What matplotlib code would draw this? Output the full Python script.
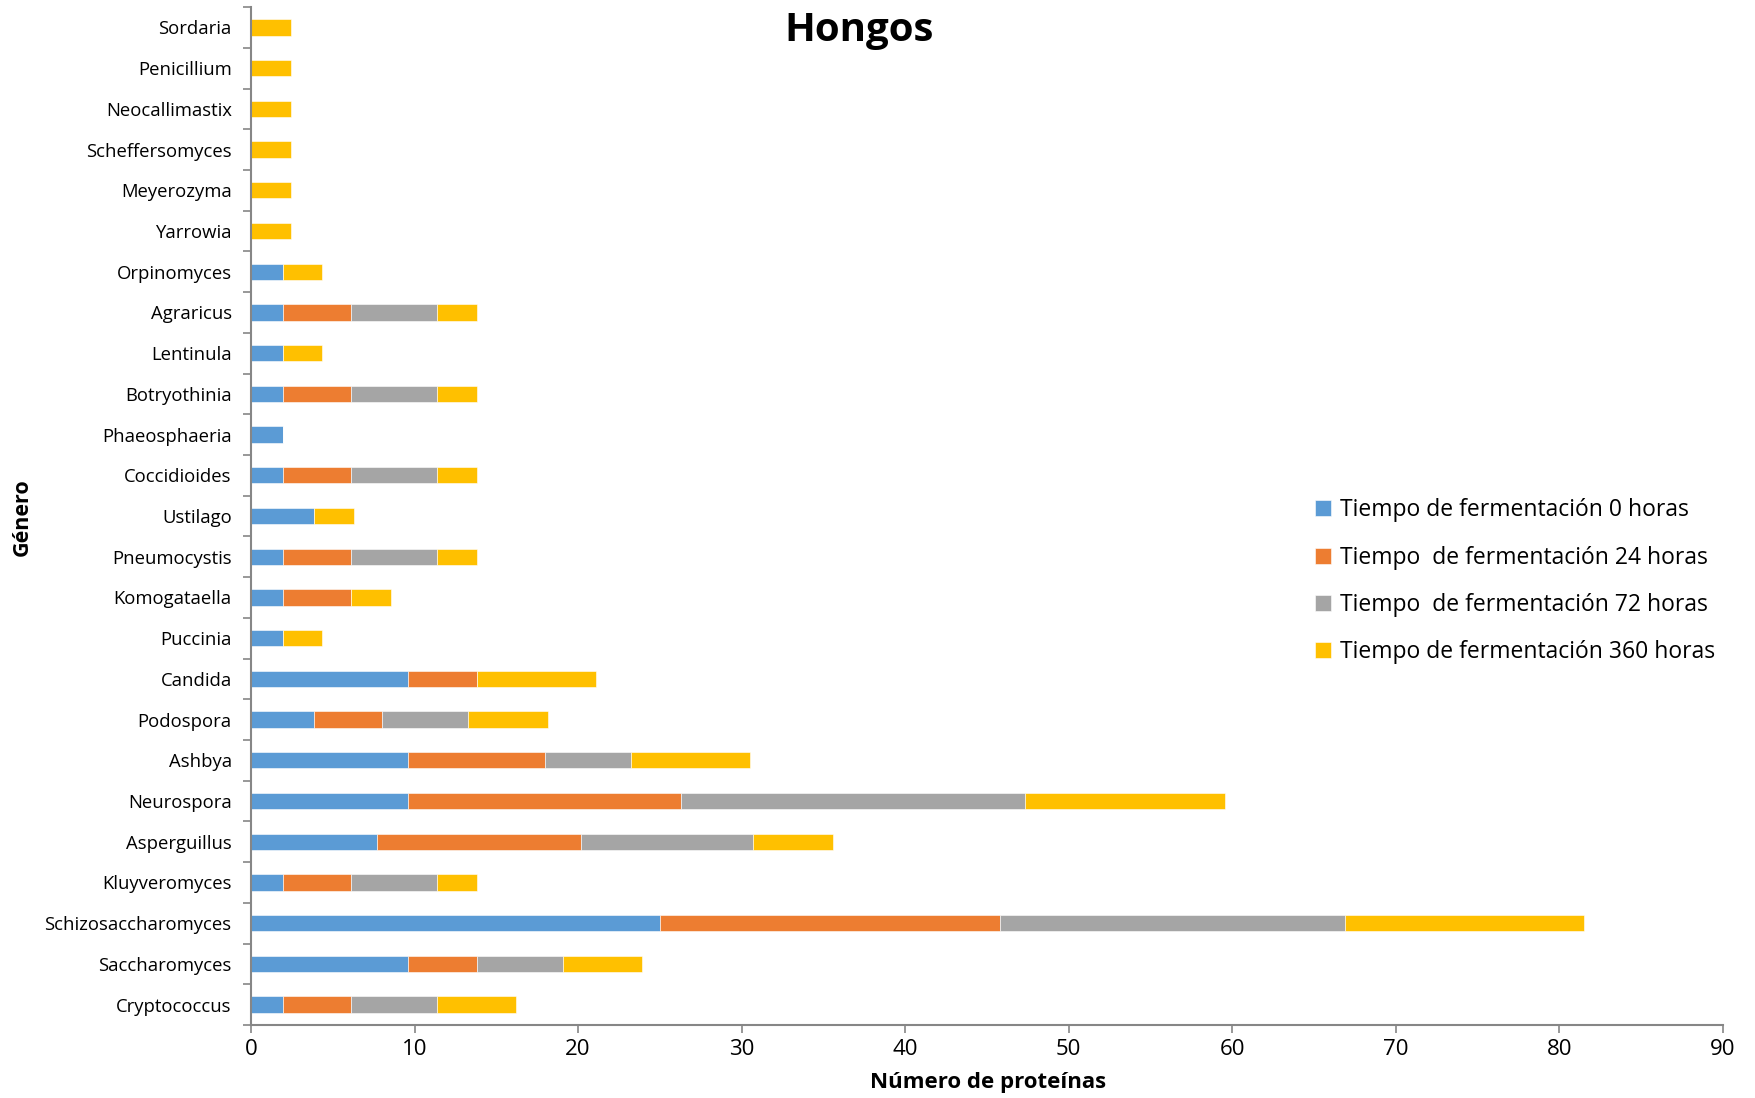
import numpy as np
import matplotlib.pyplot as plt
from matplotlib.ticker import FixedLocator

plt.rcParams['font.family'] = ['Open Sans', 'DejaVu Sans']

generos = ['Sordaria', 'Penicillium', 'Neocallimastix', 'Scheffersomyces', 'Meyerozyma',
           'Yarrowia', 'Orpinomyces', 'Agraricus', 'Lentinula', 'Botryothinia',
           'Phaeosphaeria', 'Coccidioides', 'Ustilago', 'Pneumocystis', 'Komogataella',
           'Puccinia', 'Candida', 'Podospora', 'Ashbya', 'Neurospora', 'Asperguillus',
           'Kluyveromyces', 'Schizosaccharomyces', 'Saccharomyces', 'Cryptococcus']

t0 = [0, 0, 0, 0, 0, 0, 1.92, 1.92, 1.92, 1.92, 1.92, 1.92, 3.85, 1.92, 1.92,
      1.92, 9.62, 3.85, 9.62, 9.62, 7.69, 1.92, 25.0, 9.62, 1.92]
t24 = [0, 0, 0, 0, 0, 0, 0, 4.17, 0, 4.17, 0, 4.17, 0, 4.17, 4.17,
       0, 4.17, 4.17, 8.33, 16.67, 12.5, 4.17, 20.83, 4.17, 4.17]
t72 = [0, 0, 0, 0, 0, 0, 0, 5.26, 0, 5.26, 0, 5.26, 0, 5.26, 0,
       0, 0, 5.26, 5.26, 21.05, 10.53, 5.26, 21.05, 5.26, 5.26]
t360 = [2.44, 2.44, 2.44, 2.44, 2.44, 2.44, 2.44, 2.44, 2.44, 2.44, 0, 2.44, 2.44, 2.44, 2.44,
        2.44, 7.32, 4.88, 7.32, 12.20, 4.88, 2.44, 14.63, 4.88, 4.88]

series = [
    (t0, 'Tiempo de fermentación 0 horas', '#5B9BD5'),
    (t24, 'Tiempo  de fermentación 24 horas', '#ED7D31'),
    (t72, 'Tiempo  de fermentación 72 horas', '#A5A5A5'),
    (t360, 'Tiempo de fermentación 360 horas', '#FFC000'),
]

fig = plt.figure(figsize=(17.56, 10.98), dpi=100)
ax = fig.add_axes([0.143, 0.0665, 0.838, 0.927])

y = np.arange(len(generos))
left = np.zeros(len(generos))
for vals, label, color in series:
    vals = np.array(vals)
    ax.barh(y, vals, left=left, height=0.4, color=color, label=label,
            edgecolor='white', linewidth=0.4)
    left += vals

ax.set_ylim(len(generos) - 0.5, -0.5)
ax.set_xlim(0, 90)
ax.set_xticks(np.arange(0, 91, 10))
ax.set_yticks(y)
ax.set_yticklabels(generos, fontsize=13.3)
ax.yaxis.set_minor_locator(FixedLocator(np.arange(-0.5, len(generos), 1)))
ax.tick_params(axis='y', which='major', length=0, pad=14)
ax.tick_params(axis='y', which='minor', length=6, color='#868686', width=1.2)
ax.tick_params(axis='x', which='major', length=6, color='#868686', width=1.2,
               labelsize=16, pad=4)

for side in ['top', 'right']:
    ax.spines[side].set_visible(False)
for side in ['left', 'bottom']:
    ax.spines[side].set_color('#868686')
    ax.spines[side].set_linewidth(1.5)

fig.text(0.489, 0.972, 'Hongos', ha='center', va='center', fontsize=29, fontweight='bold')
fig.text(0.5625, 0.014, 'Número de proteínas', ha='center', va='center',
         fontsize=16, fontweight='bold')
fig.text(0.0125, 0.529, 'Género', ha='center', va='center', rotation=90,
         fontsize=15.5, fontweight='bold')

ax.legend(frameon=False, loc='upper left', bbox_to_anchor=(0.737, 0.565),
          bbox_transform=fig.transFigure, fontsize=16.5, handlelength=0.7,
          handleheight=0.7, handletextpad=0.4, labelspacing=1.02)

plt.savefig('out.png', dpi=100)
plt.close()
